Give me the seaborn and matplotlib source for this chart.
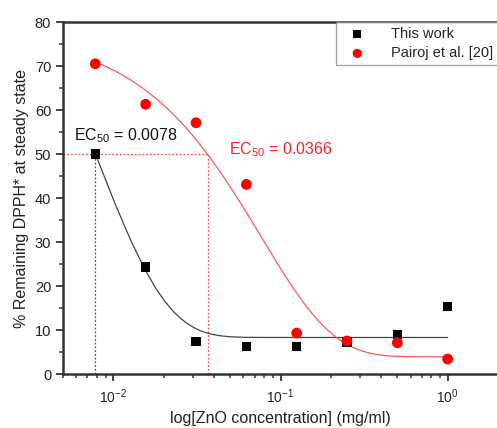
import numpy as np
import pandas as pd
import seaborn as sns
import matplotlib
matplotlib.use("Agg")
import matplotlib.pyplot as plt

# concentrations (mg/ml)
conc = [0.0078, 0.0156, 0.03125, 0.0625, 0.125, 0.25, 0.5, 1.0]
this_work = [50.0, 24.3, 7.4, 6.3, 6.3, 7.3, 8.9, 15.4]
pairoj = [70.5, 61.3, 57.1, 43.1, 9.3, 7.5, 7.1, 3.4]

# exponential decay fits: y = y0 + A * exp(-x / t)
fit_this = dict(y0=8.3, A=115.0, t=0.0077)
fit_pairoj = dict(y0=3.9, A=74.3, t=0.0765)
ec50_this = 0.0078
ec50_pairoj = 0.0366

sns.set_style("ticks")
plt.rcParams['font.family'] = ['Liberation Sans', 'DejaVu Sans']
plt.rcParams['mathtext.fontset'] = 'custom'
plt.rcParams['mathtext.rm'] = 'Liberation Sans'
plt.rcParams['mathtext.it'] = 'Liberation Sans:italic'

fig = plt.figure(figsize=(4.97, 4.28), dpi=100)
ax = fig.add_axes([63 / 497, 54 / 428, 435 / 497, 352 / 428])

xs = np.linspace(conc[0], conc[-1], 400)


def decay(x, p):
    return p["y0"] + p["A"] * np.exp(-x / p["t"])


curves = pd.DataFrame({"x": xs, "this": decay(xs, fit_this), "pairoj": decay(xs, fit_pairoj)})

# EC50 guide lines
ax.plot([ec50_this, ec50_this], [0, 50], ls=(0, (1.5, 1.5)), color="#555555", lw=0.9)
ax.plot([0.005, ec50_pairoj], [50, 50], ls=(0, (1.5, 1.5)), color="#ff5050", lw=0.9)
ax.plot([ec50_pairoj, ec50_pairoj], [0, 50], ls=(0, (1.5, 1.5)), color="#ff5050", lw=0.9)

sns.lineplot(data=curves, x="x", y="this", color="#444444", lw=0.9, ax=ax, legend=False)
sns.lineplot(data=curves, x="x", y="pairoj", color="#ff5555", lw=0.9, ax=ax, legend=False)

sns.scatterplot(x=conc, y=this_work, marker="s", s=45, color="black", edgecolor="none",
                label="This work", ax=ax, zorder=5)
sns.scatterplot(x=conc, y=pairoj, marker="o", s=60, color="#ff0000", edgecolor="none",
                label="Pairoj et al. [20]", ax=ax, zorder=5)

ax.set_xscale("log")
ax.set_xlim(0.005, 2.0)
ax.set_ylim(0, 80)
ax.set_yticks(np.arange(0, 81, 10))
ax.set_yticks(np.arange(0, 81, 5), minor=True)

ax.text(0.00583, 54.2, "EC$_{50}$ = 0.0078", fontsize=11.5, color="#111111", va="center")
ax.text(0.0489, 51.0, "EC$_{50}$ = 0.0366", fontsize=11.5, color="#ff2020", va="center")

ax.set_xlabel("log[ZnO concentration] (mg/ml)", fontsize=11.5, color="#222222")
ax.xaxis.set_label_coords(0.5, -0.104)
ax.set_ylabel("% Remaining DPPH* at steady state", fontsize=11.5, color="#222222", labelpad=4)

for side in ["left", "bottom", "top"]:
    ax.spines[side].set_linewidth(1.8)
    ax.spines[side].set_color("#333333")
ax.spines["right"].set_visible(False)
ax.tick_params(axis="both", which="major", length=5, width=1.3, color="#333333",
               labelsize=10.5, labelcolor="#222222")
ax.tick_params(axis="both", which="minor", length=3, width=1.1, color="#333333")
ax.tick_params(axis="x", which="major", labelsize=10, pad=5)

leg = ax.legend(loc="upper right", bbox_to_anchor=(1.0, 1.0), fontsize=10.5, frameon=True,
                fancybox=False, edgecolor="#888888", borderaxespad=0, handletextpad=1.2,
                borderpad=0.35, labelspacing=0.35, handlelength=2.2, markerscale=0.85)
leg.get_frame().set_linewidth(0.9)

fig.savefig("out.png", dpi=100)
